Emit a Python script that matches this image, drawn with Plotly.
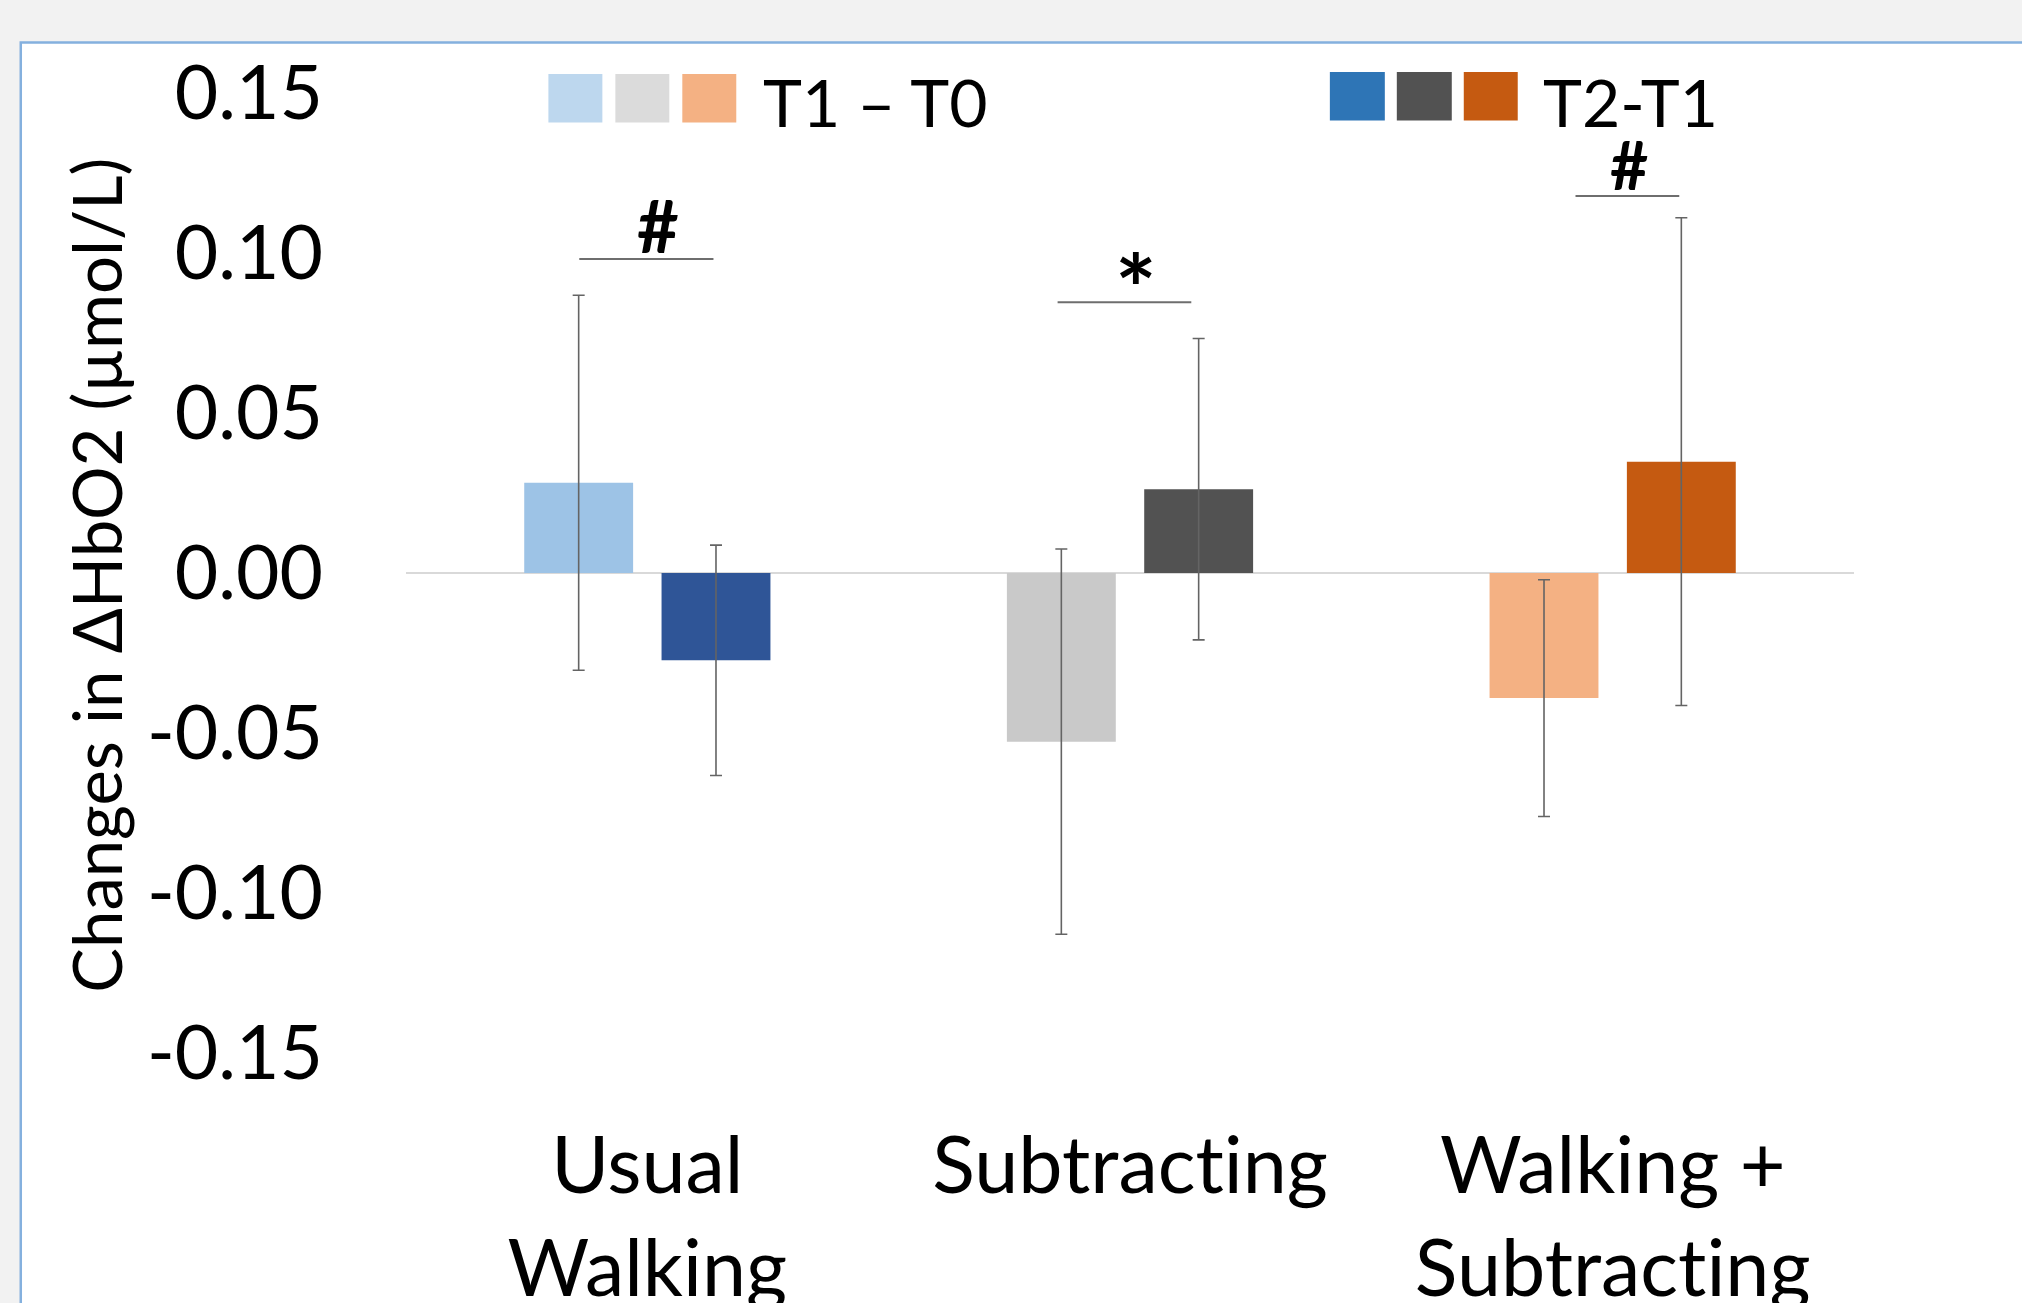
import plotly.graph_objects as go

# ---------------- data ----------------
categories = ["Usual<br>Walking", "Subtracting", "Walking +<br>Subtracting"]
t1_t0_values = [0.0282, -0.0527, -0.0391]
t1_t0_errors = [0.0586, 0.0602, 0.0370]
t2_t1_values = [-0.0273, 0.0262, 0.0348]
t2_t1_errors = [0.0360, 0.0471, 0.0762]
t1_t0_bar_colors = ["#9DC3E6", "#C9C9C9", "#F4B183"]
t2_t1_bar_colors = ["#2F5597", "#525252", "#C55A11"]
legend_t1_colors = ["#BDD7EE", "#DBDBDB", "#F4B183"]
legend_t2_colors = ["#2E75B6", "#525252", "#C55A11"]
legend_labels = ["T1 \u2013 T0", "T2-T1"]
y_tickvals = [0.15, 0.10, 0.05, 0.00, -0.05, -0.10, -0.15]
y_ticktext = ["0.15", "0.10", "0.05", "0.00", "-0.05", "-0.10", "-0.15"]
y_title = "Changes in \u0394HbO2 (\u00b5mol/L)"
sig_marks = ["#", "*", "#"]

# ---------------- layout geometry (pixels) ----------------
W, H = 2022, 1303
PL, PR, PT, PB = 405.5, 1854.5, 93, 1053
FONT = "Lato"
ERR_COLOR = "#646464"


def px2x(px):
    return (px - PL) / (PR - PL)


def py2y(py):
    return (PB - py) / (PB - PT)


def py2d(py):
    return 0.15 - (py - PT) * 0.30 / (PB - PT)


fig = go.Figure()
fig.add_trace(go.Bar(
    x=categories, y=t1_t0_values, name=legend_labels[0],
    marker=dict(color=t1_t0_bar_colors, line=dict(width=0)),
    error_y=dict(type="data", array=t1_t0_errors, color=ERR_COLOR, thickness=1.6, width=6),
))
fig.add_trace(go.Bar(
    x=categories, y=t2_t1_values, name=legend_labels[1],
    marker=dict(color=t2_t1_bar_colors, line=dict(width=0)),
    error_y=dict(type="data", array=t2_t1_errors, color=ERR_COLOR, thickness=1.6, width=6),
))

shapes = []
# white chart box with light-blue border extending past the right/bottom edges
shapes.append(dict(type="rect", xref="paper", yref="paper", layer="below",
                   x0=px2x(20), x1=px2x(2060), y0=py2y(1340), y1=py2y(42.5),
                   fillcolor="white", line=dict(color="#84B0DE", width=2.5)))
# custom legend swatches
sw_t1 = [(548, 602), (615, 669), (682, 736)]
sw_t2 = [(1330, 1385), (1397, 1452), (1464, 1518)]
for (a, b), c in zip(sw_t1, legend_t1_colors):
    shapes.append(dict(type="rect", xref="paper", yref="paper", x0=px2x(a), x1=px2x(b),
                       y0=py2y(122.5), y1=py2y(74), fillcolor=c, line=dict(width=0)))
for (a, b), c in zip(sw_t2, legend_t2_colors):
    shapes.append(dict(type="rect", xref="paper", yref="paper", x0=px2x(a), x1=px2x(b),
                       y0=py2y(120.5), y1=py2y(72), fillcolor=c, line=dict(width=0)))
# significance bracket lines (category index coordinates)
sig_lines = [(-0.141, 0.137, 259), (0.850, 1.127, 302.3), (1.923, 2.138, 196)]
for x0, x1, py in sig_lines:
    shapes.append(dict(type="line", xref="x", yref="y", x0=x0, x1=x1,
                       y0=py2d(py), y1=py2d(py), line=dict(color="#6E6E6E", width=2)))

annotations = []
annotations.append(dict(text=legend_labels[0], xref="paper", yref="paper", x=px2x(761), y=py2y(101),
                        xanchor="left", yanchor="middle", showarrow=False, height=60,
                        font=dict(family=FONT, size=66, color="black")))
annotations.append(dict(text=legend_labels[1], xref="paper", yref="paper", x=px2x(1541), y=py2y(101),
                        xanchor="left", yanchor="middle", showarrow=False, height=60,
                        font=dict(family=FONT, size=66, color="black")))
annotations.append(dict(text=y_title, xref="paper", yref="paper", x=px2x(95), y=py2y(575),
                        xanchor="center", yanchor="middle", textangle=-90, showarrow=False,
                        font=dict(family=FONT, size=67, color="black")))
sig_pos = [(0.022, 225, 72, 60), (1.013, 287, 98, 70), (2.033, 164, 66, 56)]
for m, (xc, py, fs, hh) in zip(sig_marks, sig_pos):
    annotations.append(dict(text="<b>%s</b>" % m, xref="x", yref="y", x=xc, y=py2d(py),
                            xanchor="center", yanchor="middle", showarrow=False, height=hh,
                            font=dict(family=FONT, size=fs, color="black")))

fig.update_layout(
    width=W, height=H,
    margin=dict(l=PL, r=W - PR, t=PT, b=H - PB, pad=0, autoexpand=False),
    paper_bgcolor="#F2F2F2", plot_bgcolor="rgba(0,0,0,0)",
    barmode="group", bargap=0.431, bargroupgap=0.207,
    showlegend=False,
    shapes=shapes, annotations=annotations,
    font=dict(family=FONT, color="black"),
    xaxis=dict(showline=False, showgrid=False, zeroline=False, ticks="",
               tickfont=dict(family=FONT, size=79, color="black"),
               ticklabelstandoff=60, automargin=False),
    yaxis=dict(range=[-0.15, 0.15], tickvals=y_tickvals, ticktext=y_ticktext,
               showline=False, showgrid=False, zeroline=True, zerolinecolor="#D9D9D9",
               zerolinewidth=2, ticks="",
               tickfont=dict(family=FONT, size=75, color="black"),
               ticklabelstandoff=82, automargin=False),
)

post = (
    "document.body.style.margin='0px';"
    "document.body.style.overflow='hidden';"
    "var s=document.createElement('style');"
    "s.textContent='svg text{font-variant-ligatures:none !important;"
    "font-feature-settings:\"liga\" 0, \"clig\" 0 !important;}';"
    "document.head.appendChild(s);"
)
fig.write_html("out.html", config={"displayModeBar": False}, post_script=post)
